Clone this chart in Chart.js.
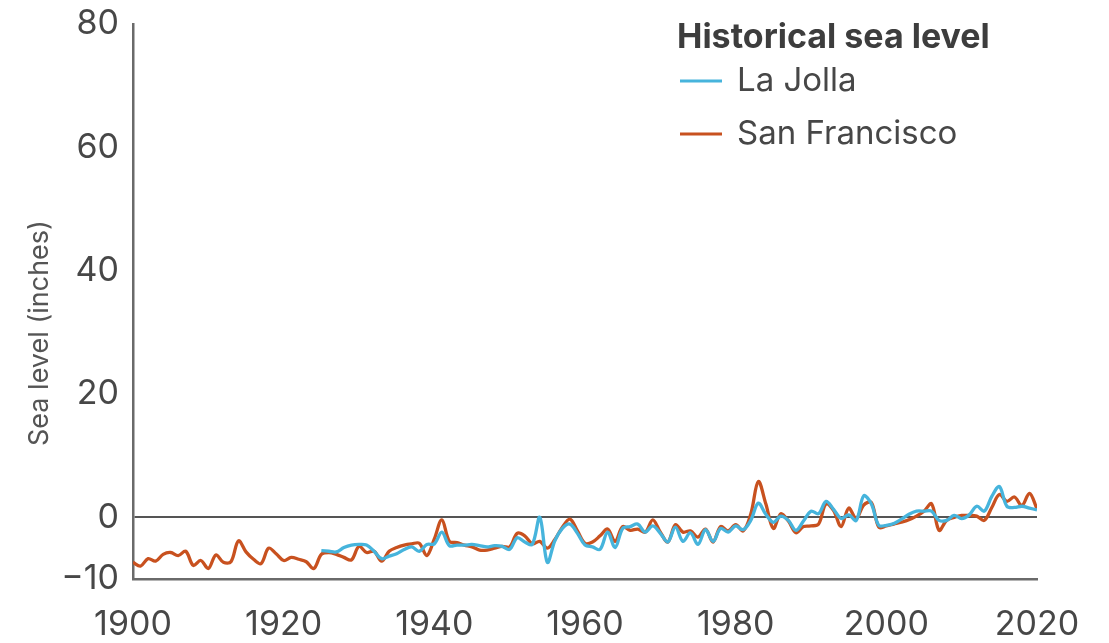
<!DOCTYPE html>
<html>
<head>
<meta charset="utf-8">
<script src="https://cdn.jsdelivr.net/npm/chart.js@4/dist/chart.umd.min.js"></script>
<style>
  body { margin: 0; background: #fff; }
  #wrap { width: 1109px; height: 643px; }
</style>
</head>
<body>
<div id="wrap"><canvas id="seaChart" width="1109" height="643"></canvas></div>
<script>
// tick labels
var xTicks = [1900, 1920, 1940, 1960, 1980, 2000, 2020];
var yTicks = [-10, 0, 20, 40, 60, 80];

// San Francisco, yearly from 1900
var sfStart = 1900;
var sfValues = [
    -7.3, -7.9, -6.7, -7.1, -6.0, -5.7, -6.2, -5.5, -7.8, -7.0,
    -8.3, -6.1, -7.3, -7.2, -3.8, -5.6, -6.8, -7.5, -5.0, -5.9,
    -7.0, -6.5, -6.8, -7.2, -8.3, -6.0, -5.7, -6.0, -6.5, -6.9,
    -4.7, -5.7, -5.5, -7.1, -5.5, -4.9, -4.5, -4.3, -4.2, -6.2,
    -3.5, -0.4, -3.9, -4.1, -4.5, -4.8, -5.3, -5.3, -5.0, -4.7,
    -4.8, -2.6, -3.0, -4.3, -3.9, -5.0, -3.6, -1.6, -0.3, -2.2,
    -4.2, -4.0, -3.0, -1.9, -3.9, -1.5, -2.1, -1.9, -2.4, -0.4,
    -2.4, -4.0, -1.2, -2.4, -2.2, -3.2, -1.9, -4.0, -1.5, -2.2,
    -1.2, -2.2, 0.5, 5.8, 2.2, -1.8, 0.6, -0.6, -2.5, -1.5,
    -1.4, -1.1, 2.2, 1.1, -1.5, 1.5, -0.2, 2.0, 2.4, -1.6,
    -1.4, -1.1, -0.8, -0.4, 0.2, 1.0, 2.2, -2.1, -0.5, 0.0,
    0.3, 0.3, 0.2, -0.5, 1.6, 3.7, 2.6, 3.3, 1.9, 3.9,
    1.4
];

// La Jolla, yearly from 1925
var ljStart = 1925;
var ljValues = [
    -5.4, -5.5, -5.6, -4.9, -4.5,
    -4.4, -4.5, -5.5, -6.7, -6.3, -5.9, -5.2, -4.8, -5.5, -4.4,
    -4.3, -2.4, -4.6, -4.5, -4.5, -4.4, -4.6, -4.8, -4.6, -4.7,
    -5.2, -3.3, -4.0, -4.4, 0.0, -7.3, -3.8, -1.8, -1.1, -2.6,
    -4.5, -4.8, -5.2, -2.4, -4.9, -1.8, -1.5, -1.1, -2.4, -1.4,
    -2.6, -4.0, -1.6, -3.9, -2.5, -4.4, -2.0, -3.9, -1.8, -2.4,
    -1.4, -2.0, -0.5, 2.3, 0.5, -0.8, 0.2, -0.5, -2.1, -0.6,
    1.0, 0.6, 2.6, 1.3, -0.2, 0.4, -0.5, 3.5, 2.2, -1.3,
    -1.3, -1.0, -0.3, 0.5, 1.0, 1.0, 1.0, -0.5, -0.5, 0.3,
    -0.2, 0.4, 1.8, 1.0, 3.4, 5.0, 1.8, 1.6, 1.8, 1.5,
    1.2
];

var ljColor = '#46b4dc';
var sfColor = '#c8511f';
var textColor = '#474747';
var axisColor = '#6a6a6a';
var fontFamily = 'Inter, Lato, sans-serif';

function toPoints(start, values) {
    return values.map(function (v, i) {
        return { x: start + i, y: v };
    });
}

// legend and rotated axis title
var overlayPlugin = {
    id: 'overlay',
    afterDraw: function (chart) {
        var ctx = chart.ctx;
        ctx.save();
        ctx.fillStyle = '#3d3d3d';
        ctx.font = 'bold 34px ' + fontFamily;
        ctx.textBaseline = 'middle';
        ctx.fillText('Historical sea level', 677, 38);

        var items = [
            { label: 'La Jolla', color: ljColor, y: 81 },
            { label: 'San Francisco', color: sfColor, y: 134 }
        ];
        items.forEach(function (it) {
            ctx.strokeStyle = it.color;
            ctx.lineWidth = 3;
            ctx.beginPath();
            ctx.moveTo(680, it.y);
            ctx.lineTo(722, it.y);
            ctx.stroke();
            ctx.fillStyle = textColor;
            ctx.font = '33px ' + fontFamily;
            ctx.fillText(it.label, 737, it.y);
        });

        ctx.translate(40, 333);
        ctx.rotate(-Math.PI / 2);
        ctx.textAlign = 'center';
        ctx.font = '27px ' + fontFamily;
        ctx.fillStyle = '#555';
        ctx.fillText('Sea level (inches)', 0, 0);
        ctx.restore();
    }
};

var ctx = document.getElementById('seaChart').getContext('2d');
var seaChart = new Chart(ctx, {
    type: 'line',
    data: {
        datasets: [{
            label: 'La Jolla',
            data: toPoints(ljStart, ljValues),
            borderColor: ljColor,
            borderWidth: 3.3,
            pointRadius: 0,
            tension: 0.35
        }, {
            label: 'San Francisco',
            data: toPoints(sfStart, sfValues),
            borderColor: sfColor,
            borderWidth: 3.3,
            pointRadius: 0,
            tension: 0.35
        }]
    },
    options: {
        responsive: false,
        animation: false,
        layout: { padding: { top: 24, right: 72, left: 0, bottom: 0 } },
        plugins: {
            legend: { display: false },
            tooltip: { enabled: false }
        },
        scales: {
            x: {
                type: 'linear',
                min: 1900,
                max: 2020,
                afterBuildTicks: function (scale) {
                    scale.ticks = xTicks.map(function (v) { return { value: v }; });
                },
                afterFit: function (scale) { scale.height = 64; },
                grid: { display: false, drawTicks: false },
                border: { display: true, color: axisColor, width: 2.5 },
                ticks: {
                    color: textColor,
                    padding: 25,
                    maxRotation: 0,
                    font: { family: fontFamily, size: 34 },
                    callback: function (v) { return String(v); }
                }
            },
            y: {
                min: -10,
                max: 80,
                afterBuildTicks: function (scale) {
                    scale.ticks = yTicks.map(function (v) { return { value: v }; });
                },
                afterFit: function (scale) {
                    scale.width = 133;
                    scale.paddingTop = 0;
                    scale.paddingBottom = 0;
                },
                grid: {
                    drawTicks: false,
                    color: function (c) { return c.tick && c.tick.value === 0 ? '#555' : 'rgba(0,0,0,0)'; },
                    lineWidth: 2
                },
                border: { display: true, color: axisColor, width: 2.5 },
                ticks: {
                    color: textColor,
                    padding: 14,
                    font: { family: fontFamily, size: 34 },
                    callback: function (v) { return v < 0 ? '\u2212' + Math.abs(v) : String(v); }
                }
            }
        }
    },
    plugins: [overlayPlugin]
});
</script>
</body>
</html>
